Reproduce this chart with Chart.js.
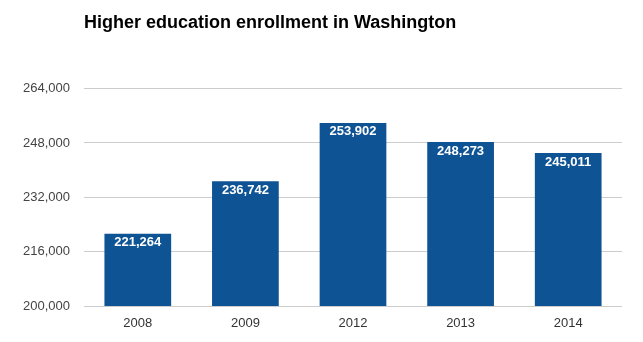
<!DOCTYPE html>
<html lang="en">
<head>
    <meta charset="UTF-8">
    <title>Higher education enrollment in Washington</title>
    <script src="https://cdn.jsdelivr.net/npm/chart.js"></script>
    <style>
        html, body { margin: 0; padding: 0; background: #fff; }
        #wrap { width: 643px; height: 342px; }
    </style>
</head>
<body>
    <div id="wrap"><canvas id="enrollChart" width="643" height="342"></canvas></div>
    <script>
        // Dados do gráfico
        const years = ['2008', '2009', '2012', '2013', '2014'];
        const enrollment = [221264, 236742, 253902, 248273, 245011];
        const yTicks = [200000, 216000, 232000, 248000, 264000];

        const FONT = '"Liberation Sans", Arial, sans-serif';

        // Rótulos brancos dentro do topo de cada barra
        const barLabels = {
            id: 'barLabels',
            afterDatasetsDraw(chart) {
                const ctx = chart.ctx;
                const meta = chart.getDatasetMeta(0);
                ctx.save();
                ctx.font = 'bold 13px ' + FONT;
                ctx.fillStyle = '#ffffff';
                ctx.textAlign = 'center';
                ctx.textBaseline = 'middle';
                meta.data.forEach(function(bar, i) {
                    ctx.fillText(enrollment[i].toLocaleString('en-US'), bar.x, bar.y + 9);
                });
                ctx.restore();
            }
        };

        new Chart(document.getElementById('enrollChart'), {
            type: 'bar',
            data: {
                labels: years,
                datasets: [{
                    data: enrollment,
                    backgroundColor: '#0e5394',
                    borderWidth: 0,
                    categoryPercentage: 1,
                    barPercentage: 0.62
                }]
            },
            options: {
                responsive: false,
                animation: false,
                layout: { padding: { left: 0, right: 21, top: 0, bottom: 0 } },
                plugins: {
                    legend: { display: false },
                    tooltip: { enabled: false },
                    title: {
                        display: true,
                        text: 'Higher education enrollment in Washington',
                        align: 'start',
                        fullSize: false,
                        color: '#000',
                        font: { family: FONT, size: 18, weight: 'bold' },
                        padding: { top: 12, bottom: 55 }
                    }
                },
                scales: {
                    x: {
                        grid: { display: false },
                        border: { display: false },
                        afterFit(axis) { axis.height = 36; },
                        ticks: {
                            color: '#333',
                            padding: 2,
                            font: { family: FONT, size: 13 }
                        }
                    },
                    y: {
                        min: 200000,
                        max: 264000,
                        afterBuildTicks(axis) {
                            axis.ticks = yTicks.map(function(v) { return { value: v }; });
                        },
                        afterFit(axis) { axis.width = 84; },
                        grid: { color: '#cccccc', drawTicks: false },
                        border: { display: false },
                        ticks: {
                            color: '#444',
                            padding: 14,
                            font: { family: FONT, size: 13 },
                            callback: function(v) { return v.toLocaleString('en-US'); }
                        }
                    }
                }
            },
            plugins: [barLabels]
        });
    </script>
</body>
</html>
